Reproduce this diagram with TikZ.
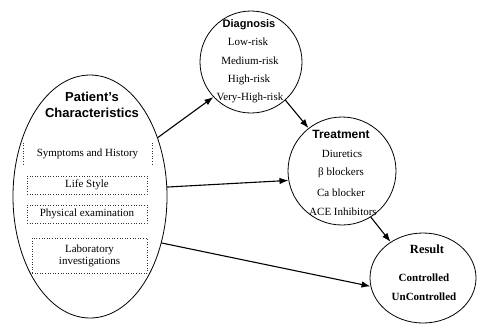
\documentclass[tikz,border=0pt]{standalone}
\usepackage{fontspec}
\setmainfont{Liberation Serif}
\newfontfamily\headfont{Liberation Sans}
\usetikzlibrary{shapes.geometric,arrows.meta}
\tikzset{
  outline/.style={draw=black,line width=0.8pt,inner sep=0pt},
  itemtext/.style={font=\fontsize{11}{12}\selectfont,inner sep=0pt},
  headsans/.style={font=\headfont\bfseries\fontsize{#1}{#1}\selectfont,inner sep=0pt},
  headserif/.style={font=\bfseries\fontsize{#1}{#1}\selectfont,inner sep=0pt},
  dotbox/.style={draw=black!80,dotted,line width=0.6pt,inner sep=0pt,font=\fontsize{11}{12}\selectfont,align=center},
  flow/.style={line width=1.1pt,-{Latex[length=9pt,width=6.5pt]}}
}
\begin{document}
\begin{tikzpicture}[x=1pt,y=-1pt]
\useasboundingbox (0,0) rectangle (478,325);
% shapes
\node[outline,ellipse,minimum width=154pt,minimum height=243pt] (pc) at (90,196.5) {};
\node[outline,circle,minimum size=102pt] (diag) at (251,62) {};
\node[outline,circle,minimum size=108pt] (treat) at (342,171) {};
\node[outline,ellipse,minimum width=106pt,minimum height=90pt] (res) at (423,278) {};
% patient texts
\node[headsans=13] (pt1) at (92,97) {Patient’s};
\node[headsans=13] (pt2) at (92,113) {Characteristics};
\node[inner sep=0pt,minimum width=129pt,minimum height=22pt,font=\fontsize{11}{12}\selectfont] (sym) at (87.5,154) {Symptoms and History};
\draw[draw=black!80,dotted,line width=0.6pt] (sym.north west) -- (sym.south west) (sym.north east) -- (sym.south east);
\node[dotbox,minimum width=120pt,minimum height=18pt] (life) at (87,185) {Life Style};
\node[dotbox,minimum width=120pt,minimum height=18pt] (phys) at (87,214) {Physical examination};
\node[dotbox,minimum width=115pt,minimum height=35pt] (lab) at (89.5,255.5) {Laboratory\\investigations};
% diagnosis texts
\node[headsans=11] (d0) at (249,25) {Diagnosis};
\node[itemtext] (d1) at (248,42) {Low-risk};
\node[itemtext] (d2) at (250,61) {Medium-risk};
\node[itemtext] (d3) at (249,80) {High-risk};
\node[itemtext] (d4) at (250,98) {Very-High-risk};
% treatment texts
\node[headsans=12] (t0) at (341,134) {Treatment};
\node[itemtext] (t1) at (342,154) {Diuretics};
\node[itemtext] (t2) at (341,173) {β blockers};
\node[itemtext] (t3) at (341,193) {Ca blocker};
\node[itemtext] (t4) at (343,212) {ACE Inhibitors};
% result texts
\node[headserif=12.5] (r0) at (427,249) {Result};
\node[headserif=11] (r1) at (424,278) {Controlled};
\node[headserif=11] (r2) at (424,297) {UnControlled};
% connectors
\draw[flow] (pc.41) -- (diag.223);
\draw[flow] (diag.312) -- (treat.128);
\draw[flow] (pc.7) -- (treat.190);
\draw[flow] (treat.302) -- (res.132.5);
\draw[flow] (pc.-33.6) -- (res.189.8);
\end{tikzpicture}
\end{document}
